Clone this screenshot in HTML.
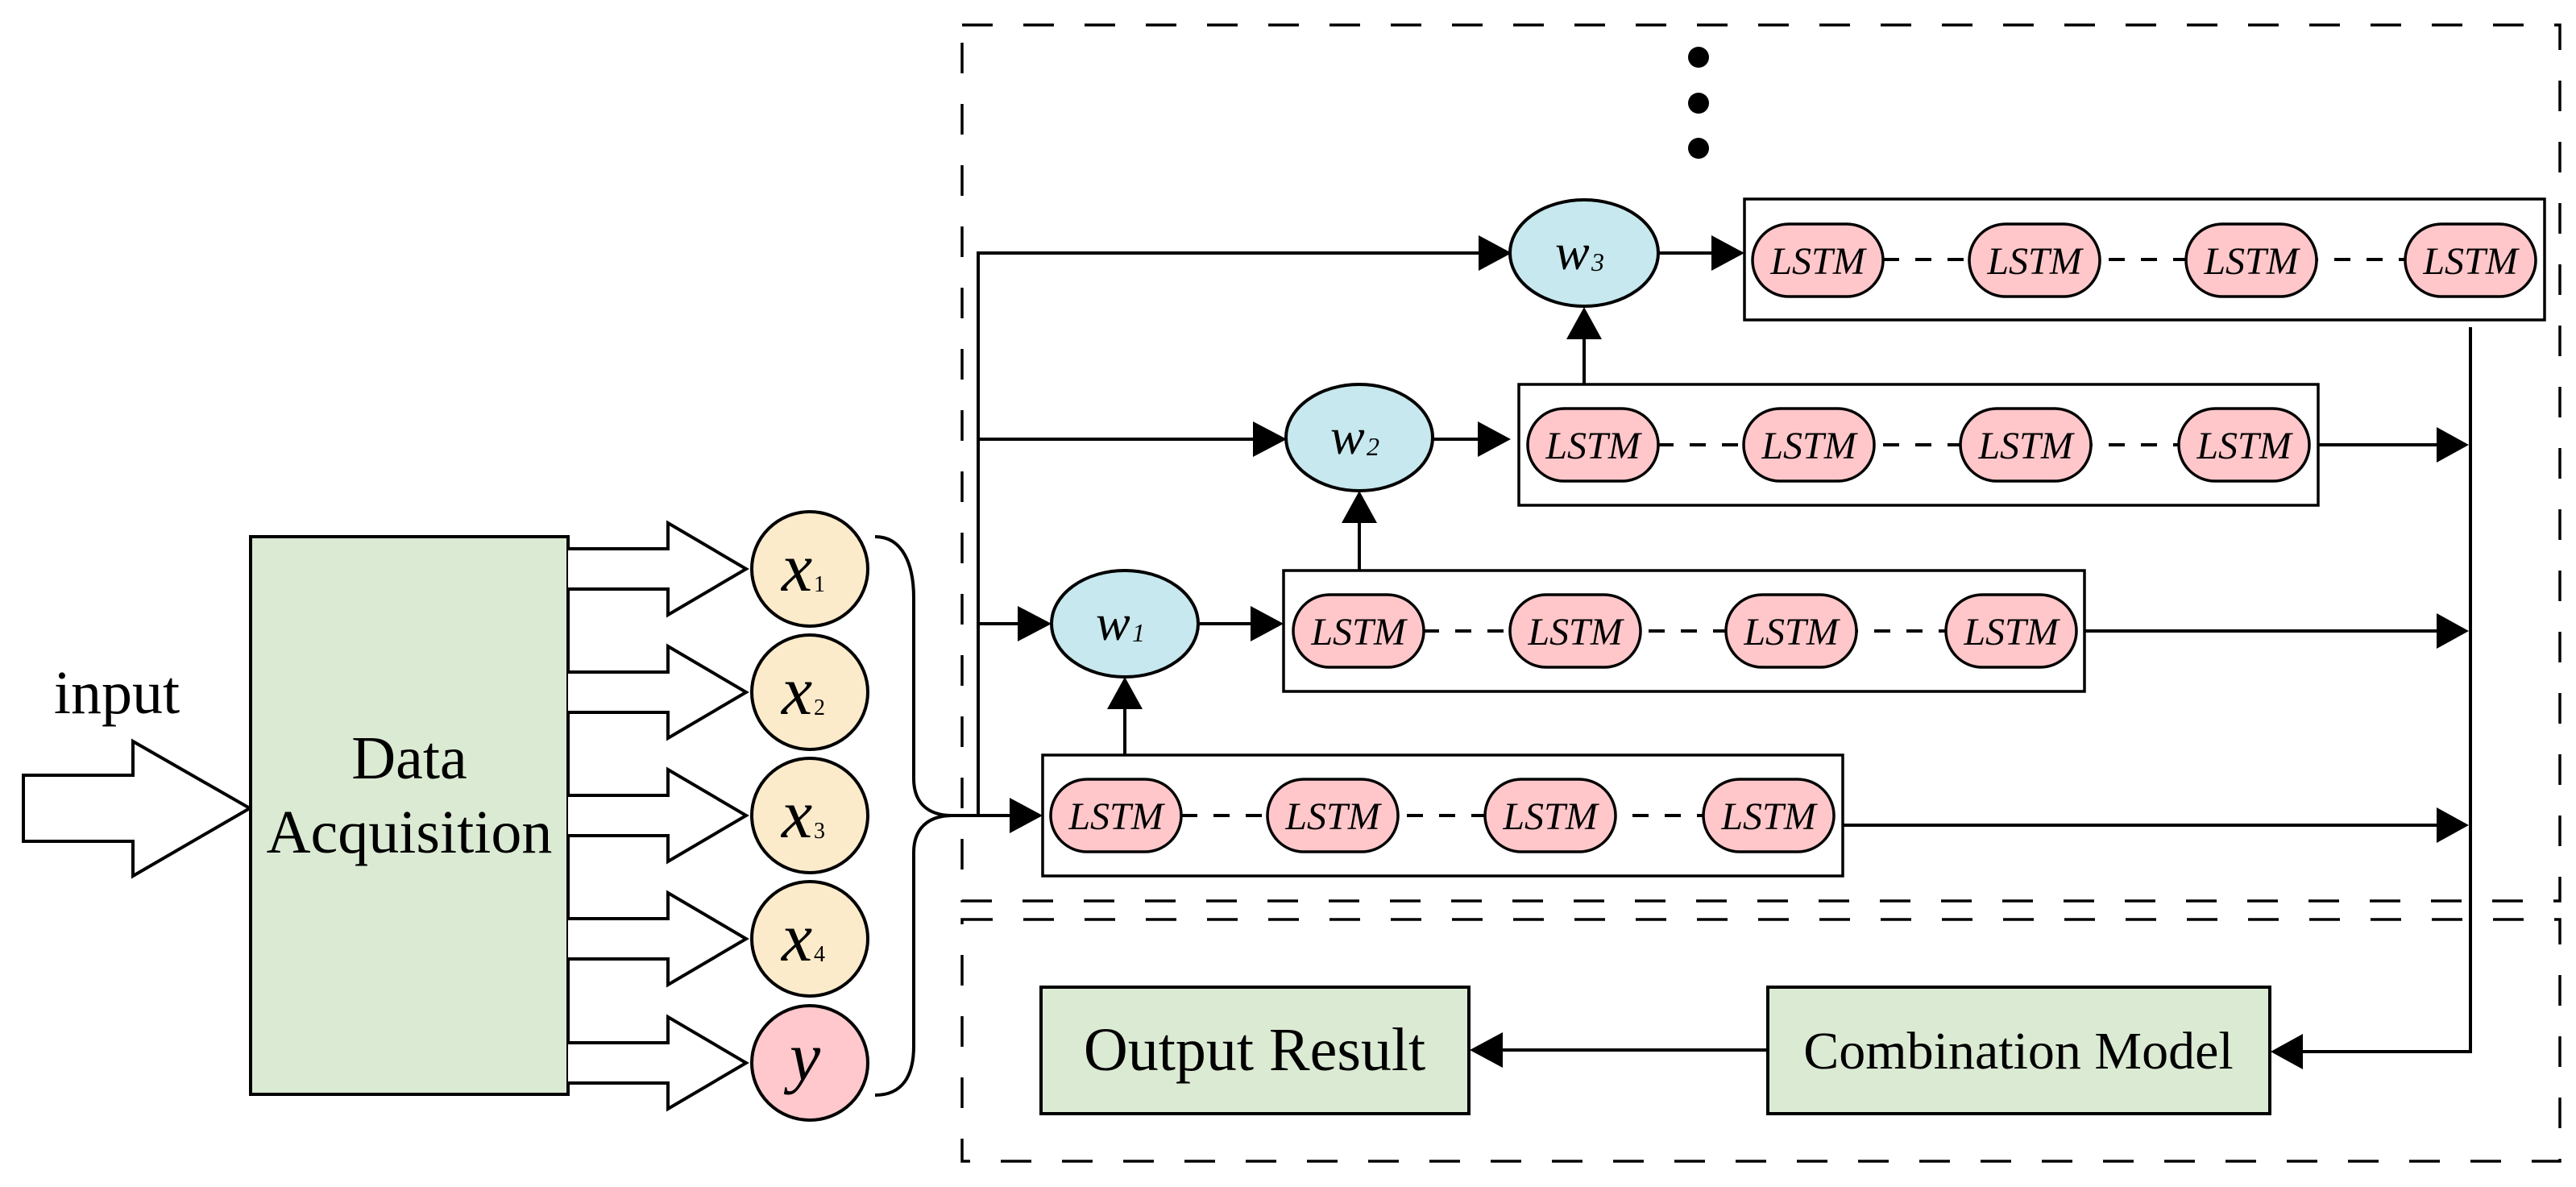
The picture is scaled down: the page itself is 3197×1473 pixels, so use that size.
<!DOCTYPE html>
<html><head><meta charset="utf-8"><style>
html,body{margin:0;padding:0;background:#fff}
svg{display:block}
text{font-family:"Liberation Serif",serif}
.p{fill:#ffc7ca;stroke:#000;stroke-width:3.5}
.lt{font-style:italic;font-size:48px;text-anchor:middle}
</style></head><body>
<svg width="3197" height="1473" viewBox="0 0 3197 1473" xmlns="http://www.w3.org/2000/svg">
<g fill="none" stroke="#000" stroke-width="3.5" stroke-dasharray="38 38">
<rect x="1194" y="31" width="1983" height="1087"/>
<rect x="1194" y="1141" width="1983" height="300"/>
</g>
<circle cx="2108" cy="71" r="13"/><circle cx="2108" cy="128" r="13"/><circle cx="2108" cy="184" r="13"/>

<polygon points="29,962 165,962 165,920 310,1003 165,1087 165,1044 29,1044" fill="#fff" stroke="#000" stroke-width="4"/>
<text x="145" y="885" font-size="76" text-anchor="middle">input</text>
<rect x="311" y="666" width="394" height="692" fill="#dbead3" stroke="#000" stroke-width="4"/>
<text x="508" y="966" font-size="76" text-anchor="middle">Data</text>
<text x="508" y="1058" font-size="76" text-anchor="middle">Acquisition</text>

<g fill="#fff" stroke="#000" stroke-width="4">
<polyline points="705,681 829,681 829,649 926,706 829,763 829,731 705,731"/>
<polyline points="705,834 829,834 829,802 926,859 829,916 829,884 705,884"/>
<polyline points="705,987 829,987 829,955 926,1012 829,1069 829,1037 705,1037"/>
<polyline points="705,1140 829,1140 829,1108 926,1165 829,1222 829,1190 705,1190"/>
<polyline points="705,1294 829,1294 829,1262 926,1319 829,1376 829,1344 705,1344"/>
</g>
<g stroke="#000" stroke-width="4">
<ellipse cx="1005" cy="706" rx="72" ry="71" fill="#fcebcb"/>
<ellipse cx="1005" cy="859" rx="72" ry="71" fill="#fcebcb"/>
<ellipse cx="1005" cy="1012" rx="72" ry="71" fill="#fcebcb"/>
<ellipse cx="1005" cy="1165" rx="72" ry="71" fill="#fcebcb"/>
<ellipse cx="1005" cy="1319" rx="72" ry="71" fill="#ffc8cc"/>
</g>
<g font-style="italic" font-size="86">
<text x="970" y="733">x</text><text x="1010" y="734" font-size="28" font-style="normal">1</text>
<text x="970" y="886">x</text><text x="1010" y="887" font-size="28" font-style="normal">2</text>
<text x="970" y="1039">x</text><text x="1010" y="1040" font-size="28" font-style="normal">3</text>
<text x="970" y="1192">x</text><text x="1010" y="1193" font-size="28" font-style="normal">4</text>
<text x="980" y="1340">y</text>
</g>
<path d="M1086,666 C1120,666 1134,700 1134,742 L1134,966 C1134,995 1150,1012 1182,1012 C1150,1012 1134,1030 1134,1058 L1134,1298 C1134,1335 1120,1359 1086,1359" fill="none" stroke="#000" stroke-width="4"/>

<g stroke="#000" stroke-width="4" fill="none">
<line x1="1182" y1="1012" x2="1260" y2="1012"/>
<line x1="1214" y1="312" x2="1214" y2="1012"/>
<line x1="1214" y1="314" x2="1840" y2="314"/>
<line x1="1214" y1="545" x2="1560" y2="545"/>
<line x1="1214" y1="774" x2="1270" y2="774"/>
<line x1="1487" y1="774" x2="1560" y2="774"/>
<line x1="1779" y1="545" x2="1840" y2="545"/>
<line x1="2058" y1="314" x2="2130" y2="314"/>
<line x1="1396" y1="937" x2="1396" y2="875"/>
<line x1="1687" y1="707" x2="1687" y2="645"/>
<line x1="1966" y1="477" x2="1966" y2="415"/>
<line x1="2287" y1="1024" x2="3030" y2="1024"/>
<line x1="2587" y1="783" x2="3030" y2="783"/>
<line x1="2877" y1="552" x2="3030" y2="552"/>
<polyline points="3066,406 3066,1305 2850,1305"/>
<line x1="2194" y1="1303" x2="1860" y2="1303"/>
</g>
<g fill="#000">
<polygon points="1253,990 1294,1012 1253,1034"/>
<polygon points="1835,292 1876,314 1835,336"/>
<polygon points="1555,523 1597,545 1555,567"/>
<polygon points="1263,752 1305,774 1263,796"/>
<polygon points="1552,752 1593,774 1552,796"/>
<polygon points="1834,523 1875,545 1834,567"/>
<polygon points="2124,292 2165,314 2124,336"/>
<polygon points="1374,880 1396,840 1418,880"/>
<polygon points="1665,649 1687,609 1709,649"/>
<polygon points="1944,421 1966,381 1988,421"/>
<polygon points="3024,1002 3064,1024 3024,1046"/>
<polygon points="3024,761 3064,783 3024,805"/>
<polygon points="3024,530 3064,552 3024,574"/>
<polygon points="2858,1283 2818,1305 2858,1327"/>
<polygon points="1865,1281 1824,1303 1865,1325"/>
</g>
<g fill="#c6e8ee" stroke="#000" stroke-width="4">
<ellipse cx="1396" cy="774" rx="91" ry="66"/>
<ellipse cx="1687" cy="543" rx="91" ry="66"/>
<ellipse cx="1966" cy="314" rx="92" ry="66"/>
</g>
<g font-style="italic" font-size="64">
<text x="1360" y="794">w</text><text x="1405" y="796" font-size="32">1</text>
<text x="1651" y="563">w</text><text x="1696" y="565" font-size="32">2</text>
<text x="1930" y="334">w</text><text x="1975" y="336" font-size="32">3</text>
</g>

<g fill="none" stroke="#000" stroke-width="3.5">
<rect x="1294" y="937" width="993" height="150"/>
<rect x="1593" y="708" width="994" height="150"/>
<rect x="1885" y="477" width="992" height="150"/>
<rect x="2165" y="247" width="993" height="150"/>
</g>
<g stroke="#000" stroke-width="4" stroke-dasharray="20 20">
<line x1="1466" y1="1012" x2="2114" y2="1012"/>
<line x1="1766" y1="783" x2="2415" y2="783"/>
<line x1="2057" y1="552" x2="2704" y2="552"/>
<line x1="2337" y1="322" x2="2985" y2="322"/>
</g>
<g>
<rect class="p" x="1304" y="967" width="162" height="90" rx="45"/>
<rect class="p" x="1573" y="967" width="162" height="90" rx="45"/>
<rect class="p" x="1843" y="967" width="162" height="90" rx="45"/>
<rect class="p" x="2114" y="967" width="162" height="90" rx="45"/>
<rect class="p" x="1605" y="738" width="162" height="90" rx="45"/>
<rect class="p" x="1874" y="738" width="162" height="90" rx="45"/>
<rect class="p" x="2142" y="738" width="162" height="90" rx="45"/>
<rect class="p" x="2415" y="738" width="162" height="90" rx="45"/>
<rect class="p" x="1896" y="507" width="162" height="90" rx="45"/>
<rect class="p" x="2164" y="507" width="162" height="90" rx="45"/>
<rect class="p" x="2433" y="507" width="162" height="90" rx="45"/>
<rect class="p" x="2704" y="507" width="162" height="90" rx="45"/>
<rect class="p" x="2175" y="278" width="162" height="90" rx="45"/>
<rect class="p" x="2444" y="278" width="162" height="90" rx="45"/>
<rect class="p" x="2713" y="278" width="162" height="90" rx="45"/>
<rect class="p" x="2985" y="278" width="162" height="90" rx="45"/>
</g>
<g>
<text class="lt" x="1385" y="1029">LSTM</text><text class="lt" x="1654" y="1029">LSTM</text><text class="lt" x="1924" y="1029">LSTM</text><text class="lt" x="2195" y="1029">LSTM</text>
<text class="lt" x="1686" y="800">LSTM</text><text class="lt" x="1955" y="800">LSTM</text><text class="lt" x="2223" y="800">LSTM</text><text class="lt" x="2496" y="800">LSTM</text>
<text class="lt" x="1977" y="569">LSTM</text><text class="lt" x="2245" y="569">LSTM</text><text class="lt" x="2514" y="569">LSTM</text><text class="lt" x="2785" y="569">LSTM</text>
<text class="lt" x="2256" y="340">LSTM</text><text class="lt" x="2525" y="340">LSTM</text><text class="lt" x="2794" y="340">LSTM</text><text class="lt" x="3066" y="340">LSTM</text>
</g>

<rect x="1292" y="1225" width="531" height="157" fill="#dbead3" stroke="#000" stroke-width="4"/>
<text x="1557" y="1328" font-size="76" text-anchor="middle">Output Result</text>
<rect x="2194" y="1225" width="623" height="157" fill="#dbead3" stroke="#000" stroke-width="4"/>
<text x="2505" y="1326" font-size="66" text-anchor="middle">Combination Model</text>
</svg>
</body></html>
